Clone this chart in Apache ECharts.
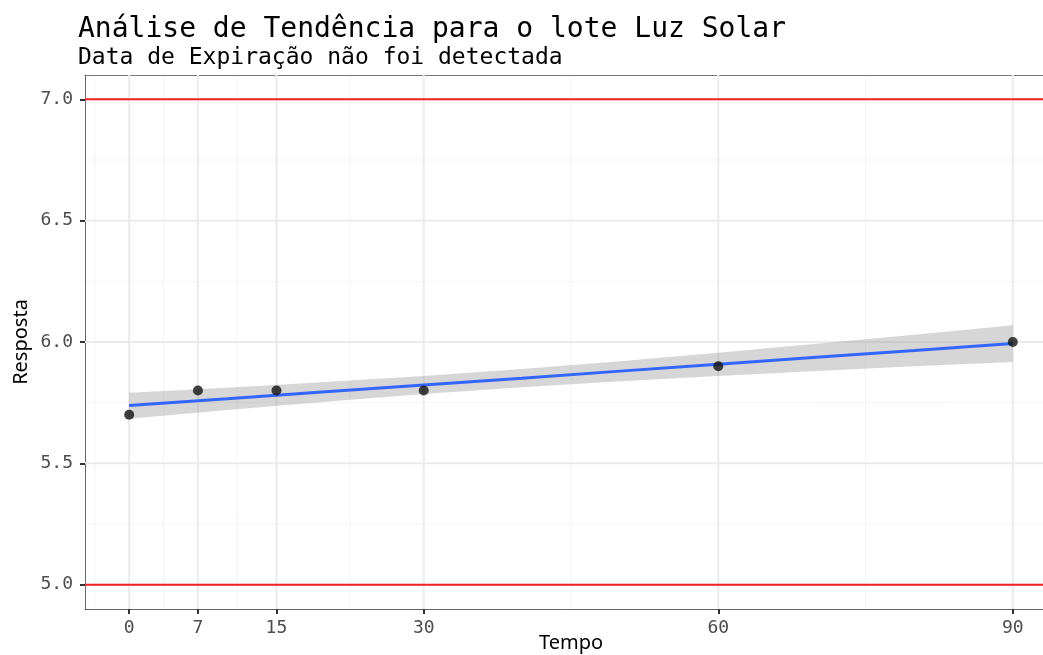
<!DOCTYPE html>
<html>
<head>
<meta charset="utf-8">
<script src="https://cdn.jsdelivr.net/npm/echarts@6/dist/echarts.min.js"></script>
<style>
  html, body { margin: 0; padding: 0; background: #ffffff; }
  #chart { width: 1043px; height: 655px; }
</style>
</head>
<body>
<div id="chart"></div>
<script>
// Observed stability measurements (time in days, response)
const tempo = [0, 7, 15, 30, 60, 90];
const resposta = [5.7, 5.8, 5.8, 5.8, 5.9, 6.0];

// Linear trend with its 95% confidence band, sampled along the time axis
const fitX = [0, 10, 20, 30, 40, 50, 60, 70, 80, 90];
const fitY = [5.738, 5.766, 5.795, 5.823, 5.851, 5.880, 5.908, 5.937, 5.965, 5.994];
const bandLow = [5.684, 5.720, 5.754, 5.786, 5.814, 5.838, 5.860, 5.881, 5.900, 5.918];
const bandHigh = [5.791, 5.812, 5.835, 5.860, 5.889, 5.921, 5.956, 5.993, 6.030, 6.069];

// Specification limits
const limits = [5.0, 7.0];

// Axis breaks
const xTicks = [0, 7, 15, 30, 60, 90];
const xMinor = [-3.5, 3.5, 11, 22.5, 45, 75];
const yTicks = [5.0, 5.5, 6.0, 6.5, 7.0];
const yMinor = [5.25, 5.75, 6.25, 6.75];

const chart = echarts.init(document.getElementById('chart'), null, { renderer: 'canvas' });

// Full-width / full-height reference lines drawn through the axis scales
function refLines(axis, values, color, width, z) {
  return {
    type: 'custom',
    silent: true,
    z: z,
    clip: true,
    data: values.map(v => [v]),
    renderItem: function (params, api) {
      const cs = params.coordSys;
      const v = api.value(0);
      let shape;
      if (axis === 'x') {
        const px = api.coord([v, 6])[0];
        shape = { x1: px, y1: cs.y, x2: px, y2: cs.y + cs.height };
      } else {
        const py = api.coord([0, v])[1];
        shape = { x1: cs.x, y1: py, x2: cs.x + cs.width, y2: py };
      }
      return { type: 'line', shape: shape, style: { stroke: color, lineWidth: width } };
    }
  };
}

const monoFont = 'DejaVu Sans Mono';

chart.setOption({
  animation: false,
  backgroundColor: '#ffffff',
  title: {
    text: 'Análise de Tendência para o lote Luz Solar',
    subtext: 'Data de Expiração não foi detectada',
    left: 73,
    top: 11,
    itemGap: 3,
    textStyle: { fontFamily: monoFont, fontSize: 28, fontWeight: 'normal', color: '#000000' },
    subtextStyle: { fontFamily: monoFont, fontSize: 23, color: '#000000' }
  },
  grid: {
    left: 85,
    right: -14,
    top: 75,
    bottom: 46,
    containLabel: false,
    outerBoundsMode: 'none',
    show: false
  },
  xAxis: [{
    type: 'value',
    min: -4.5,
    max: 94.5,
    name: 'Tempo',
    nameLocation: 'middle',
    nameGap: 24,
    nameMoveOverlap: false,
    nameTextStyle: { fontFamily: 'Noto Sans', fontSize: 20, color: '#000000' },
    axisLine: { show: true, onZero: false, lineStyle: { color: '#666666', width: 1 } },
    axisTick: { show: true, length: 5, customValues: xTicks, lineStyle: { color: '#333333', width: 2 } },
    axisLabel: {
      customValues: xTicks,
      margin: 10,
      fontFamily: monoFont,
      fontSize: 18,
      color: '#4d4d4d'
    },
    splitLine: { show: false }
  }, {
    // top panel border
    type: 'value',
    position: 'top',
    min: -4.5,
    max: 94.5,
    axisLine: { show: true, onZero: false, lineStyle: { color: '#777777', width: 1 } },
    axisTick: { show: false },
    axisLabel: { show: false },
    splitLine: { show: false }
  }],
  yAxis: {
    type: 'value',
    min: 4.9,
    max: 7.1,
    name: 'Resposta',
    nameLocation: 'middle',
    nameGap: 54,
    nameMoveOverlap: false,
    nameTextStyle: { fontFamily: 'Noto Sans', fontSize: 20, color: '#000000' },
    axisLine: { show: true, onZero: false, lineStyle: { color: '#666666', width: 1 } },
    axisTick: { show: true, length: 5, customValues: yTicks, lineStyle: { color: '#333333', width: 2 } },
    axisLabel: {
      customValues: yTicks,
      margin: 12,
      fontFamily: monoFont,
      fontSize: 18,
      color: '#4d4d4d',
      formatter: v => v.toFixed(1)
    },
    splitLine: { show: false }
  },
  series: [
    refLines('x', xMinor, '#f4f4f4', 1, 0),
    refLines('y', yMinor, '#f4f4f4', 1, 0),
    refLines('x', xTicks, '#ebebeb', 2, 1),
    refLines('y', yTicks, '#ebebeb', 2, 1),
    {
      // confidence band around the trend line
      type: 'custom',
      z: 2,
      silent: true,
      data: fitX.map((x, i) => [x, fitY[i]]),
      renderItem: function (params, api) {
        if (params.dataIndex !== 0) return null;
        const upper = fitX.map((x, i) => api.coord([x, bandHigh[i]]));
        const lower = fitX.map((x, i) => api.coord([x, bandLow[i]])).reverse();
        return {
          type: 'polygon',
          shape: { points: upper.concat(lower) },
          style: { fill: 'rgba(153,153,153,0.4)' }
        };
      }
    },
    refLines('y', limits, '#ee2222', 2, 3),
    {
      type: 'line',
      z: 4,
      data: fitX.map((x, i) => [x, fitY[i]]),
      showSymbol: false,
      symbol: 'none',
      lineStyle: { color: '#3366ff', width: 3 }
    },
    {
      type: 'scatter',
      z: 5,
      data: tempo.map((x, i) => [x, resposta[i]]),
      symbol: 'circle',
      symbolSize: 10,
      itemStyle: { color: '#111111' }
    }
  ]
});
</script>
</body>
</html>
